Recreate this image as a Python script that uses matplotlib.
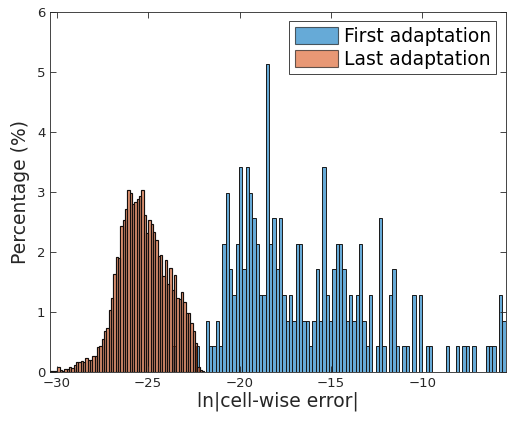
import numpy as np
import matplotlib
matplotlib.use("Agg")
import matplotlib.pyplot as plt

# First adaptation: 100 equal bins, sample counts per bin (234 cells)
first_left_edge = -23.67
first_bin_width = 0.1823
first_counts = np.array([
    1, 0, 0, 0, 0, 0, 0, 1, 0, 0,
    2, 1, 1, 2, 1, 5, 7, 4, 3, 5,
    8, 4, 8, 7, 6, 5, 3, 3, 12, 5,
    6, 4, 6, 3, 2, 3, 2, 5, 5, 2,
    2, 1, 2, 4, 2, 8, 3, 2, 4, 5,
    5, 4, 2, 3, 2, 3, 5, 2, 1, 3,
    0, 1, 6, 1, 0, 3, 4, 1, 0, 1,
    1, 0, 3, 0, 3, 0, 1, 1, 0, 0,
    0, 0, 1, 0, 0, 1, 0, 1, 1, 0,
    1, 0, 0, 0, 1, 1, 1, 0, 3, 2,
])

# Last adaptation: percentage per bin
last_left_edge = -30.35
last_bin_width = 0.1277
last_pct = np.array([
    0.02, 0.01, 0.02, 0.09, 0.04, 0.02, 0.045, 0.05, 0.08, 0.06,
    0.12, 0.16, 0.16, 0.18, 0.16, 0.24, 0.20, 0.20, 0.26, 0.26,
    0.41, 0.43, 0.55, 0.68, 0.74, 1.03, 1.23, 1.63, 1.92, 1.90,
    2.44, 2.54, 2.72, 3.04,
    2.98, 2.80, 2.84, 2.89, 2.93, 3.04, 2.62, 2.31, 2.54, 2.47,
    2.34, 2.20, 1.93, 1.95, 1.60, 1.86, 1.47, 1.74, 1.37, 1.61,
    1.24, 1.21, 1.34, 1.16, 0.98, 0.99, 0.81, 0.69, 0.49, 0.09,
    0.03, 0.02,
])

first_pct = first_counts / first_counts.sum() * 100
first_centers = first_left_edge + first_bin_width * (np.arange(len(first_counts)) + 0.5)
last_centers = last_left_edge + last_bin_width * (np.arange(len(last_pct)) + 0.5)

blue = (0.0, 0.447, 0.741)
orange = (0.85, 0.325, 0.098)
axcol = (0.15, 0.15, 0.15)

plt.rcParams["font.family"] = ["DejaVu Sans"]

fig = plt.figure(figsize=(5.07, 4.25), dpi=100)
ax = fig.add_axes([0.0992, 0.1247, 0.8982, 0.8471])

ax.bar(first_centers, first_pct, width=first_bin_width, color=blue, alpha=0.6,
       edgecolor="none", label="First adaptation")
ax.bar(first_centers, first_pct, width=first_bin_width, facecolor="none",
       edgecolor=(0.1, 0.1, 0.1), linewidth=0.7)
ax.bar(last_centers, last_pct, width=last_bin_width, color=orange, alpha=0.6,
       edgecolor="none", label="Last adaptation")
ax.bar(last_centers, last_pct, width=last_bin_width, facecolor="none",
       edgecolor=(0.08, 0.06, 0.05), linewidth=0.85)

ax.set_xlim(last_left_edge, first_left_edge + first_bin_width * len(first_counts))
ax.set_ylim(0, 6)
ax.set_xticks([-30, -25, -20, -15, -10])
ax.set_yticks(range(7))
ax.tick_params(direction="in", top=True, right=True, length=4, width=0.6,
               colors=axcol, labelsize=9.5)
for s in ax.spines.values():
    s.set_color(axcol)
    s.set_linewidth(0.6)

ax.set_xlabel("ln|cell-wise error|", fontsize=13.5, color=axcol, labelpad=1)
ax.set_ylabel("Percentage (%)", fontsize=13.5, color=axcol, labelpad=5)

leg = ax.legend(loc="upper right", fontsize=13.5, handlelength=2.3,
                handleheight=1.0, handletextpad=0.3, borderpad=0.3,
                labelspacing=0.2, fancybox=False, framealpha=1,
                edgecolor=axcol, borderaxespad=0.5)
for h in leg.legend_handles:
    h.set_edgecolor("black")
    h.set_linewidth(0.8)
leg.get_frame().set_linewidth(0.6)

plt.savefig("out.png", dpi=100)
